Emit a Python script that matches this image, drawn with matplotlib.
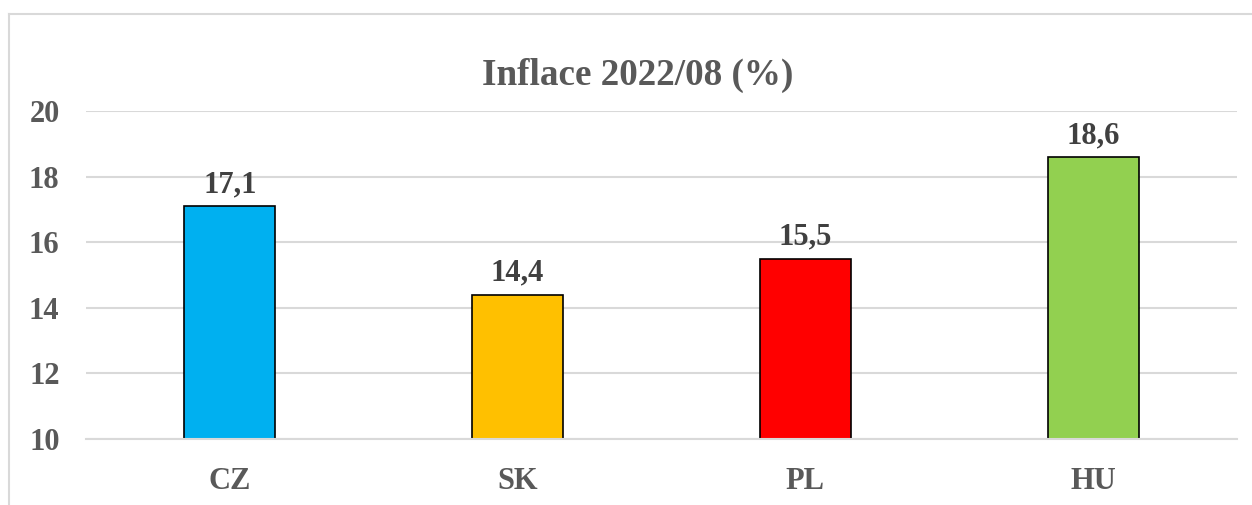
import matplotlib.pyplot as plt
from matplotlib.lines import Line2D

# data
zeme = ['CZ', 'SK', 'PL', 'HU']
inflace = [17.1, 14.4, 15.5, 18.6]
barvy = ['#00B0F0', '#FFC000', '#FF0000', '#92D050']
osa_y = [10, 12, 14, 16, 18, 20]

plt.rcParams['font.family'] = ['Liberation Serif', 'DejaVu Serif']
plt.rcParams['font.weight'] = 'bold'
seda = '#595959'

fig = plt.figure(figsize=(12.52, 5.05), dpi=100)
ax = fig.add_axes([0.0687, 0.1307, 0.9193, 0.6493])

x = range(len(zeme))
bars = ax.bar(x, [v - 10 for v in inflace], bottom=10, width=0.316,
              color=barvy, edgecolor='black', linewidth=1.2, zorder=3)
ax.bar_label(bars, labels=[f'{v:.1f}'.replace('.', ',') for v in inflace],
             padding=5, fontsize=22, color='#404040', fontweight='bold')

ax.set_xlim(-0.5, len(zeme) - 0.5)
ax.set_ylim(10, 20)
ax.set_yticks(osa_y)
ax.set_xticks(list(x))
ax.set_xticklabels(zeme)
ax.tick_params(axis='y', length=0, pad=19, labelsize=22, labelcolor=seda)
ax.tick_params(axis='x', length=0, pad=20, labelsize=22, labelcolor=seda)
ax.yaxis.grid(True, color='#D9D9D9', linewidth=1.5, zorder=0)
for s in ['top', 'right', 'left']:
    ax.spines[s].set_visible(False)
ax.spines['bottom'].set_color('#D9D9D9')
ax.spines['bottom'].set_linewidth(1.5)
ax.spines['bottom'].set_zorder(4)

fig.text(0.509, 0.85, 'Inflace 2022/08 (%)', ha='center', va='center',
         fontsize=26.7, fontweight='bold', color=seda)

# rámeček oblasti grafu
x0 = 9 / 1252
y0 = 1 - 14 / 505
fig.add_artist(Line2D([x0, x0], [0, y0], color='#D9D9D9', linewidth=1.5))
fig.add_artist(Line2D([x0, 1], [y0, y0], color='#D9D9D9', linewidth=1.5))

fig.savefig('out.png', dpi=100)
